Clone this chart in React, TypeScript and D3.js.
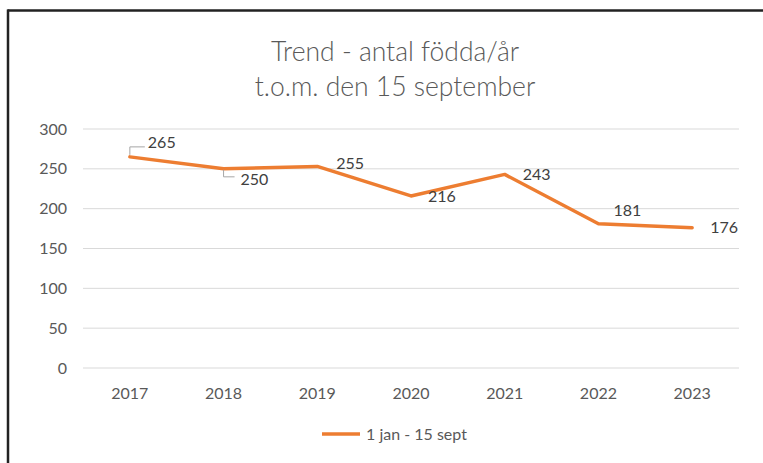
import React from "react";
import * as d3 from "d3";

const years = ["2017", "2018", "2019", "2020", "2021", "2022", "2023"];
const births = [265, 250, 253, 216, 243, 181, 176];
const labels = ["265", "250", "255", "216", "243", "181", "176"];
const yTicks = [0, 50, 100, 150, 200, 250, 300];
const titleLines = ["Trend - antal födda/år", "t.o.m. den 15 september"];
const legendLabel = "1 jan - 15 sept";

// label offsets [dx, dy] relative to point (anchor start), and leader type
const labelOffsets: [number, number, string][] = [
  [18, -13, "up"],
  [17, 12, "down"],
  [19, -1, ""],
  [17, 2, ""],
  [18, 2, ""],
  [15, -12, ""],
  [18, 1, ""],
];

export default function App() {
  const W = 763, H = 463;
  const x = d3.scaleBand<string>().domain(years).range([83, 739]);
  const y = d3.scaleLinear().domain([0, 300]).range([368, 129]);
  const cx = (d: string) => (x(d) as number) + x.bandwidth() / 2;
  const line = d3.line<number>().x((_, i) => cx(years[i])).y((v) => y(v));
  const font = "Lato, 'Open Sans', sans-serif";
  const textColor = "#595959";

  return (
    <svg width={W} height={H} style={{ position: "absolute", left: 0, top: 0, background: "#fff" }}>
      <rect x={0} y={0} width={W} height={H} fill="#fff" />
      <line x1={7.5} x2={W} y1={10.5} y2={10.5} stroke="#222" strokeWidth={2.5} />
      <line x1={8} x2={8} y1={9.5} y2={H} stroke="#222" strokeWidth={2.5} />
      {titleLines.map((t, i) => (
        <text key={i} x={395} y={61 + i * 35} textAnchor="middle" fontFamily={font} fontWeight={300} fontSize={26.5} fill={textColor}>{t}</text>
      ))}
      {yTicks.map((t) => (
        <g key={t}>
          <line x1={83} x2={739} y1={y(t)} y2={y(t)} stroke="#d9d9d9" strokeWidth={1} />
          <text x={67} y={y(t) + 5.5} textAnchor="end" fontFamily={font} fontSize={16} fill={textColor}>{t}</text>
        </g>
      ))}
      {years.map((yr) => (
        <text key={yr} x={cx(yr)} y={399} textAnchor="middle" fontFamily={font} fontSize={16} fill={textColor}>{yr}</text>
      ))}
      <path d={line(births) || ""} fill="none" stroke="#ed7d31" strokeWidth={3.5} strokeLinejoin="round" strokeLinecap="round" />
      {births.map((v, i) => {
        const px = cx(years[i]), py = y(v);
        const [dx, dy, lead] = labelOffsets[i];
        return (
          <g key={i}>
            {lead === "up" && (
              <path d={`M${px},${py - 2} V${py - 10} H${px + 15}`} fill="none" stroke="#a6a6a6" strokeWidth={1} />
            )}
            {lead === "down" && (
              <path d={`M${px},${py + 1} V${py + 8} H${px + 11}`} fill="none" stroke="#a6a6a6" strokeWidth={1} />
            )}
            <text x={px + dx} y={py + dy} fontFamily={font} fontSize={16} fill="#404040" dominantBaseline="middle" textAnchor="start">
              {labels[i]}
            </text>
          </g>
        );
      })}
      <line x1={322} x2={360} y1={434} y2={434} stroke="#ed7d31" strokeWidth={3.5} />
      <text x={366} y={440} fontFamily={font} fontSize={16} fill={textColor}>{legendLabel}</text>
    </svg>
  );
}
